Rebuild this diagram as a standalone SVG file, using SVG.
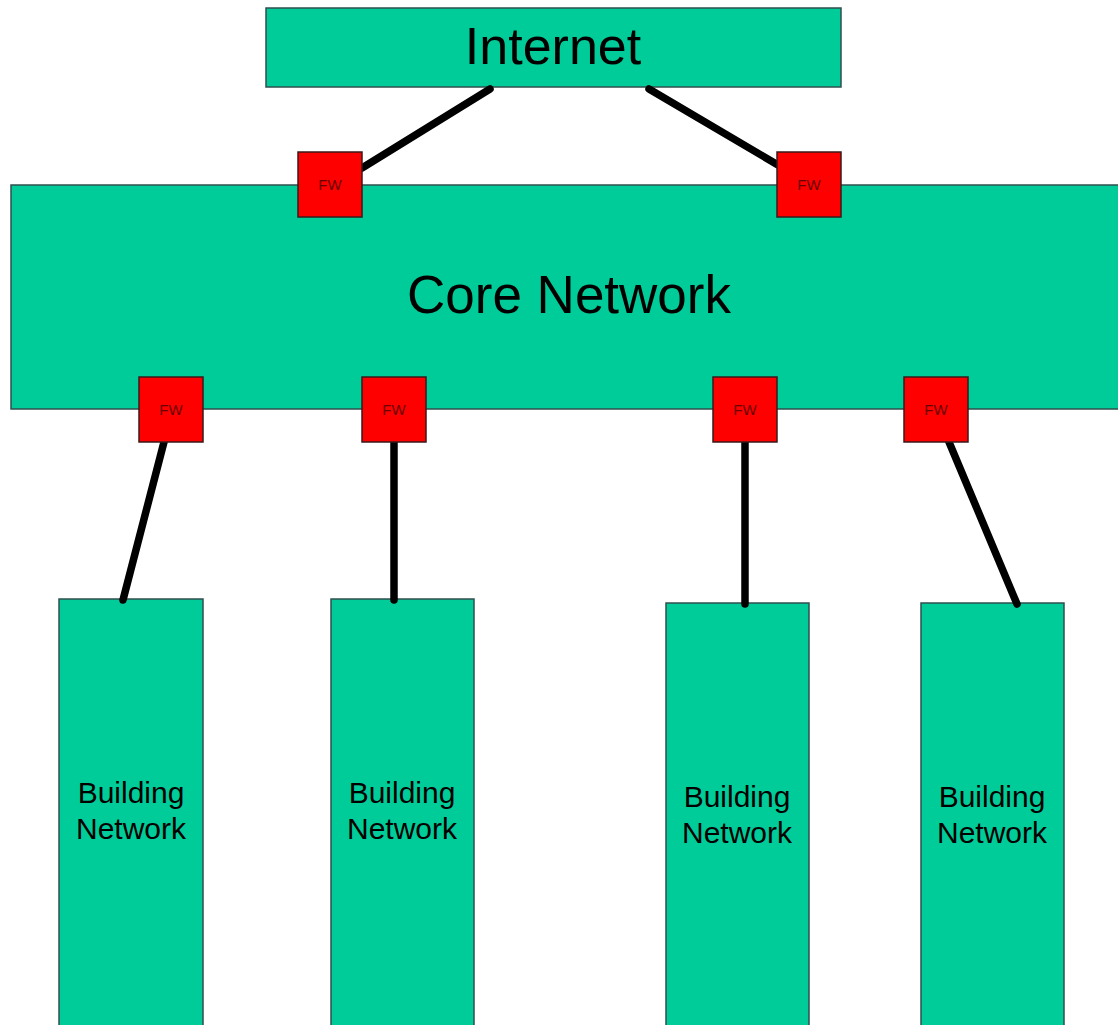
<svg xmlns="http://www.w3.org/2000/svg" width="1118" height="1025" viewBox="0 0 1118 1025">
<style>
.box{fill:#00cc99;stroke:#2f4f4f;stroke-width:1.5}
.fw{fill:#ff0000;stroke:#3a1a1a;stroke-width:1.5}
.lbl{font-family:"Liberation Sans",Arial,sans-serif;fill:#000;text-anchor:middle}
.fwt{font-family:"Liberation Sans",Arial,sans-serif;font-size:15px;fill:#6a0000;text-anchor:middle}
.conn{stroke:#000;stroke-width:7.5;stroke-linecap:round;fill:none}
</style>
<rect width="1118" height="1025" fill="#fff"/>
<g id="internet"><rect class="box" x="266" y="8" width="575" height="79"/><text class="lbl" x="553" y="64" font-size="52">Internet</text></g>
<g id="core"><rect class="box" x="11" y="185" width="1112" height="224"/><text class="lbl" x="569" y="313" font-size="53">Core Network</text></g>
<g id="b1"><rect class="box" x="59" y="599" width="144" height="430"/><text class="lbl" x="131" y="803" font-size="30">Building</text><text class="lbl" x="131" y="839" font-size="30">Network</text></g>
<g id="b2"><rect class="box" x="331" y="599" width="143" height="430"/><text class="lbl" x="402" y="803" font-size="30">Building</text><text class="lbl" x="402" y="839" font-size="30">Network</text></g>
<g id="b3"><rect class="box" x="666" y="603" width="143" height="430"/><text class="lbl" x="737" y="807" font-size="30">Building</text><text class="lbl" x="737" y="843" font-size="30">Network</text></g>
<g id="b4"><rect class="box" x="921" y="603" width="143" height="430"/><text class="lbl" x="992" y="807" font-size="30">Building</text><text class="lbl" x="992" y="843" font-size="30">Network</text></g>
<g id="connectors">
<line class="conn" x1="490" y1="89" x2="362" y2="168"/>
<line class="conn" x1="649" y1="89" x2="778" y2="165"/>
<line class="conn" x1="164" y1="442" x2="123" y2="600"/>
<line class="conn" x1="394" y1="442" x2="394" y2="600"/>
<line class="conn" x1="745" y1="442" x2="745" y2="604"/>
<line class="conn" x1="949" y1="442" x2="1017" y2="604"/>
</g>
<g id="fw1"><rect class="fw" x="298" y="152" width="64" height="65"/><text class="fwt" x="330" y="190">FW</text></g>
<g id="fw2"><rect class="fw" x="777" y="152" width="64" height="65"/><text class="fwt" x="809" y="190">FW</text></g>
<g id="fw3"><rect class="fw" x="139" y="377" width="64" height="65"/><text class="fwt" x="171" y="415">FW</text></g>
<g id="fw4"><rect class="fw" x="362" y="377" width="64" height="65"/><text class="fwt" x="394" y="415">FW</text></g>
<g id="fw5"><rect class="fw" x="713" y="377" width="64" height="65"/><text class="fwt" x="745" y="415">FW</text></g>
<g id="fw6"><rect class="fw" x="904" y="377" width="64" height="65"/><text class="fwt" x="936" y="415">FW</text></g>
</svg>
